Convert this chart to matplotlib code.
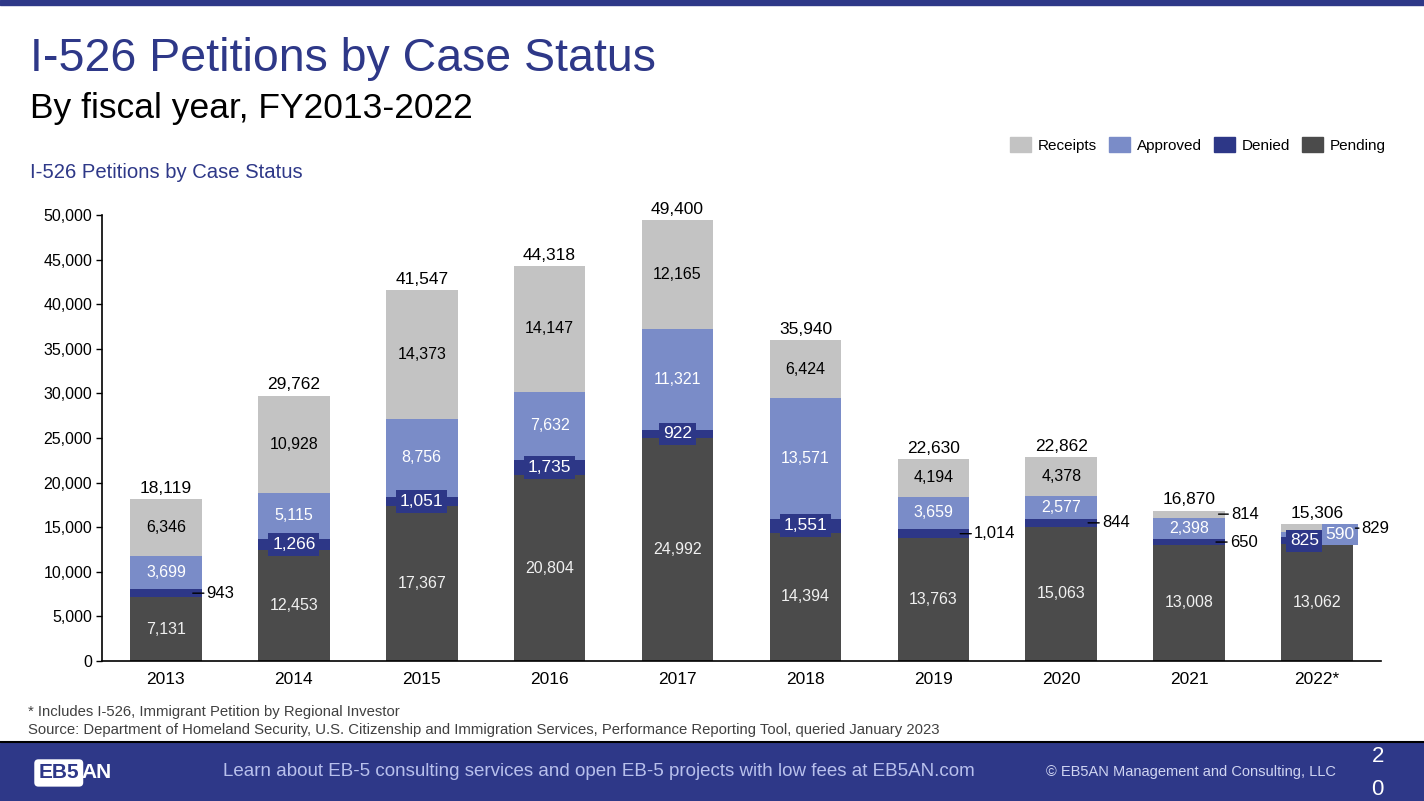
import matplotlib
matplotlib.use('Agg')
import matplotlib.pyplot as plt
from matplotlib.patches import Patch, Rectangle
from matplotlib.lines import Line2D

plt.rcParams['font.family'] = ['Liberation Sans', 'DejaVu Sans']

# Daten (Geschaeftsjahre)
years = ['2013', '2014', '2015', '2016', '2017', '2018', '2019', '2020', '2021', '2022*']
pending = [7131, 12453, 17367, 20804, 24992, 14394, 13763, 15063, 13008, 13062]
denied = [943, 1266, 1051, 1735, 922, 1551, 1014, 844, 650, 825]
approved = [3699, 5115, 8756, 7632, 11321, 13571, 3659, 2577, 2398, 590]
receipts = [6346, 10928, 14373, 14147, 12165, 6424, 4194, 4378, 814, 829]
y_ticks = [0, 5000, 10000, 15000, 20000, 25000, 30000, 35000, 40000, 45000, 50000]

navy = '#2E3888'
c_pending = '#4B4B4B'
c_denied = '#2D3787'
c_approved = '#7A8CC8'
c_receipts = '#C3C3C3'

fig = plt.figure(figsize=(14.24, 8.01), dpi=100)
ax = fig.add_axes([0.0716, 0.1748, 0.8982, 0.5568])

x = list(range(len(years)))
w = 0.56
b1 = pending
b2 = [p + d for p, d in zip(pending, denied)]
b3 = [s + a for s, a in zip(b2, approved)]
totals = [s + r for s, r in zip(b3, receipts)]

ax.bar(x, pending, w, color=c_pending)
ax.bar(x, denied, w, bottom=b1, color=c_denied)
ax.bar(x, approved, w, bottom=b2, color=c_approved)
ax.bar(x, receipts, w, bottom=b3, color=c_receipts)

ax.set_xlim(-0.5, len(years) - 0.5)
ax.set_ylim(0, 50000)
ax.set_yticks(y_ticks)
ax.set_yticklabels([f'{v:,}' for v in y_ticks], fontsize=11.5)
ax.set_xticks(x)
ax.set_xticklabels(years, fontsize=12.5)
ax.tick_params(axis='x', length=0, pad=8)
ax.tick_params(axis='y', length=4, width=1, pad=3)
for s in ['top', 'right']:
    ax.spines[s].set_visible(False)
for s in ['left', 'bottom']:
    ax.spines[s].set_linewidth(1.2)

fs = 11.5
leader = dict(arrowstyle='-', color='black', lw=1, shrinkA=0, shrinkB=0)
outside_denied = [0, 6, 7, 8]
for i in x:
    # Summen ueber den Balken
    ax.text(i, totals[i] + 350, f'{totals[i]:,}', ha='center', va='bottom', fontsize=12.5)
    # Pending
    ax.text(i, pending[i] / 2, f'{pending[i]:,}', ha='center', va='center',
            color='#F0F0F0', fontsize=fs)
    if i == 9:
        continue
    # Approved
    ax.text(i, b2[i] + approved[i] / 2, f'{approved[i]:,}', ha='center', va='center',
            color='white', fontsize=fs)
    # Receipts
    if i != 8:
        ax.text(i, b3[i] + receipts[i] / 2, f'{receipts[i]:,}', ha='center', va='center',
                color='black', fontsize=fs)
    # Denied
    yd = b1[i] + denied[i] / 2
    if i in outside_denied:
        ax.annotate(f'{denied[i]:,}', xy=(i + w / 2 - 0.07, yd), xytext=(10, 0),
                    textcoords='offset points', ha='left', va='center', fontsize=12,
                    arrowprops=leader)
    else:
        ax.text(i, yd, f'{denied[i]:,}', ha='center', va='center', color='white',
                fontsize=12.5, bbox=dict(boxstyle='square,pad=0.22', fc=c_denied, ec='none'))

# 2021: kleine Receipts-Beschriftung aussen
ax.annotate(f'{receipts[8]:,}', xy=(8 + w / 2 - 0.05, b3[8] + receipts[8] / 2), xytext=(9, 0),
            textcoords='offset points', ha='left', va='center', fontsize=12,
            arrowprops=leader)

# 2022: gedraengte Beschriftungen
i = 9
ax.text(i - 0.10, b1[i] + denied[i] / 2, f'{denied[i]:,}', ha='center', va='center',
        color='white', fontsize=12.5,
        bbox=dict(boxstyle='square,pad=0.2', fc=c_denied, ec='none'))
ax.text(i + 0.18, b2[i] + approved[i] / 2, f'{approved[i]:,}', ha='center', va='center',
        color='white', fontsize=12.5,
        bbox=dict(boxstyle='square,pad=0.2', fc=c_approved, ec='none'))
ax.annotate(f'{receipts[i]:,}', xy=(i + 0.30, b3[i] + receipts[i] / 2), xytext=(4.5, 0),
            textcoords='offset points', ha='left', va='center', fontsize=12,
            arrowprops=leader)

# Legende
handles = [Patch(color=c_receipts), Patch(color=c_approved),
           Patch(color=c_denied), Patch(color=c_pending)]
fig.legend(handles, ['Receipts', 'Approved', 'Denied', 'Pending'], ncol=4,
           loc='center right', bbox_to_anchor=(0.983, 0.819), frameon=False,
           fontsize=11, handlelength=1.37, handleheight=1.1, columnspacing=0.8,
           handletextpad=0.45)

# Titel
fig.text(0.021, 0.926, 'I-526 Petitions by Case Status', fontsize=33.5, color=navy,
         va='center')
fig.text(0.021, 0.865, 'By fiscal year, FY2013-2022', fontsize=25.5, color='black',
         va='center')
fig.text(0.021, 0.785, 'I-526 Petitions by Case Status', fontsize=14.6, color=navy,
         va='center')

# Fussnoten
fig.text(0.0197, 0.111, '* Includes I-526, Immigrant Petition by Regional Investor',
         fontsize=10.7, color='#404040', va='center')
fig.text(0.0197, 0.089, 'Source: Department of Homeland Security, U.S. Citizenship and '
         'Immigration Services, Performance Reporting Tool, queried January 2023',
         fontsize=10.7, color='#404040', va='center')

# Kopf- und Fussbalken
fig.add_artist(Rectangle((0, 1 - 5 / 801), 1, 5 / 801, transform=fig.transFigure,
                         color=navy, zorder=0))
fig.add_artist(Rectangle((0, 0), 1, 58 / 801, transform=fig.transFigure,
                         color=navy, zorder=0))
fig.add_artist(Line2D([0, 1], [59 / 801, 59 / 801], transform=fig.transFigure,
                      color='black', lw=1.5))
fig.text(0.4205, 0.037, 'Learn about EB-5 consulting services and open EB-5 projects '
         'with low fees at EB5AN.com', fontsize=13.5, color='#B8C0EC',
         ha='center', va='center')
fig.text(0.8365, 0.036, '© EB5AN Management and Consulting, LLC', fontsize=10.5,
         color='#D0D5F2', ha='center', va='center')
fig.text(0.9675, 0.056, '2', fontsize=16, color='white', ha='center', va='center')
fig.text(0.9675, 0.014, '0', fontsize=16, color='white', ha='center', va='center')
fig.text(0.027, 0.035, 'EB5', fontsize=15, fontweight='bold', color=navy, va='center',
         bbox=dict(boxstyle='round,pad=0.2', fc='white', ec='none'))
fig.text(0.0575, 0.035, 'AN', fontsize=15, fontweight='bold', color='white', va='center')

fig.savefig('out.png', dpi=100)
